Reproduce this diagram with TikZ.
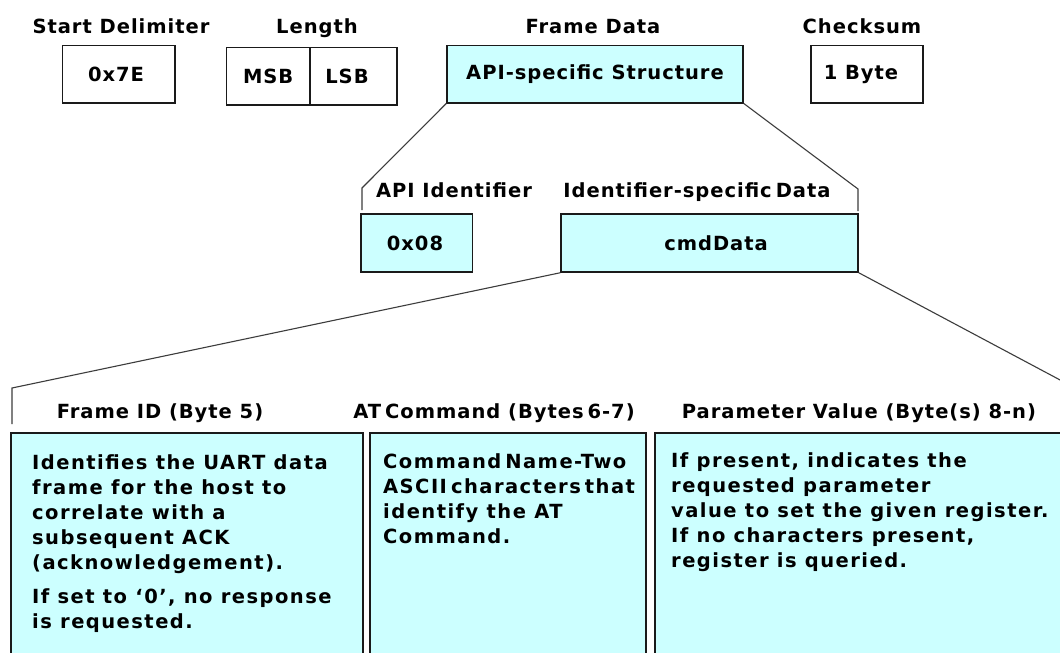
\documentclass[tikz,border=0pt]{standalone}
\usepackage{fontspec}
\setmainfont{DejaVu Sans}
\newfontfamily\gfont{DejaVu Sans}[LetterSpace=5]
\newfontfamily\bfont{DejaVu Sans}[LetterSpace=7.5]
\definecolor{cyanfill}{HTML}{CCFFFF}
\definecolor{edge}{HTML}{1A1A1A}
\newcommand{\bodypar}[2]{\parbox[t]{#1}{\raggedright\bfont\bfseries\fontsize{19.5}{25}\selectfont #2\par}}
\newcommand{\nsp}{\hspace{4pt}}
\begin{document}
\begin{tikzpicture}[x=1pt,y=-1pt,
  every node/.style={font=\gfont\bfseries\fontsize{19.5}{25}\selectfont, inner sep=0pt},
  box/.style={draw=edge, line width=1.5pt, minimum width=#1, anchor=center},
  wbox/.style={box=#1, fill=white, minimum height=57.5},
  cbox/.style={box=#1, fill=cyanfill, minimum height=57.5},
  link/.style={draw=edge!85, line width=1.1pt},
  lbl/.style={anchor=base},
  body/.style={anchor=base west}]
\useasboundingbox (0,0) rectangle (1060,653);
\fill[white] (0,0) rectangle (1060,653);

% top row
\node[lbl] (tsd) at (121,33) {Start Delimiter};
\node[lbl] (tlen) at (317,33) {Length};
\node[lbl] (tfd) at (593,33) {Frame Data};
\node[lbl] (tck) at (862,33) {Checksum};

\node[wbox=112.5] (sd) at (118.75,74.3) {};
\node (sdt) at (116,74.3) {0x7E};
\node[wbox=83.5] (msb) at (268.25,76) {MSB};
\node[wbox=87] (lsb) at (353.5,76) {};
\node (lsbt) at (347,76) {LSB};
\node[cbox=296] (fd) at (595,74) {API-specific Structure};
\node[wbox=112] (ck) at (867,74.3) {};
\node (ckt) at (861,74.3) {1 Byte};

% second level
\coordinate (fl1) at (362,188);
\coordinate (fl2) at (362,210);
\coordinate (fr1) at (858,189);
\coordinate (fr2) at (858,211);
\draw[link] (fd.south west) -- (fl1) -- (fl2);
\draw[link] (fd.south east) -- (fr1) -- (fr2);

\node[lbl] (tapi) at (454,197) {API Identifier};
\node[lbl] (tisd) at (697,197) {Identifier-specific\nsp Data};
\node[cbox=111.5, minimum height=58] (api) at (416.75,243) {};
\node (apit) at (415,243) {0x08};
\node[cbox=297, minimum height=58] (cmd) at (709.5,243) {};
\node (cmdt) at (716,243) {cmdData};

% third level
\coordinate (cl1) at (12,388);
\coordinate (cl2) at (12,424);
\coordinate (cr1) at (1062,381);
\draw[link] (cmd.south west) -- (cl1) -- (cl2);
\draw[link] (cmd.south east) -- (cr1);

\node[lbl] (tfid) at (160,418) {Frame ID (Byte 5)};
\node[lbl] (tat) at (494,418) {AT\nsp Command (Bytes\nsp 6-7)};
\node[lbl] (tpv) at (859,418) {Parameter Value (Byte(s) 8-n)};

\draw[draw=edge, line width=1.5pt, fill=cyanfill] (11,433) rectangle (363,680);
\draw[draw=edge, line width=1.5pt, fill=cyanfill] (370,433) rectangle (646,680);
\draw[draw=edge, line width=1.5pt, fill=cyanfill] (655,433) rectangle (1075,680);

\node[body] (b1a) at (32,469) {\bodypar{330pt}{Identifies the UART data\\frame for the host to\\correlate with a\\subsequent ACK\\(acknowledgement).\\[9pt]If set to ‘0’, no response\\is requested.}};
\node[body] (b2a) at (383,468) {\bodypar{270pt}{Command\nsp Name-Two\\ASCII\nsp characters\nsp that\\identify the AT\\Command.}};
\node[body] (b3a) at (671,467) {\bodypar{400pt}{If present, indicates the\\requested parameter\\value to set the given register.\\If no characters present,\\register is queried.}};
\end{tikzpicture}
\end{document}
